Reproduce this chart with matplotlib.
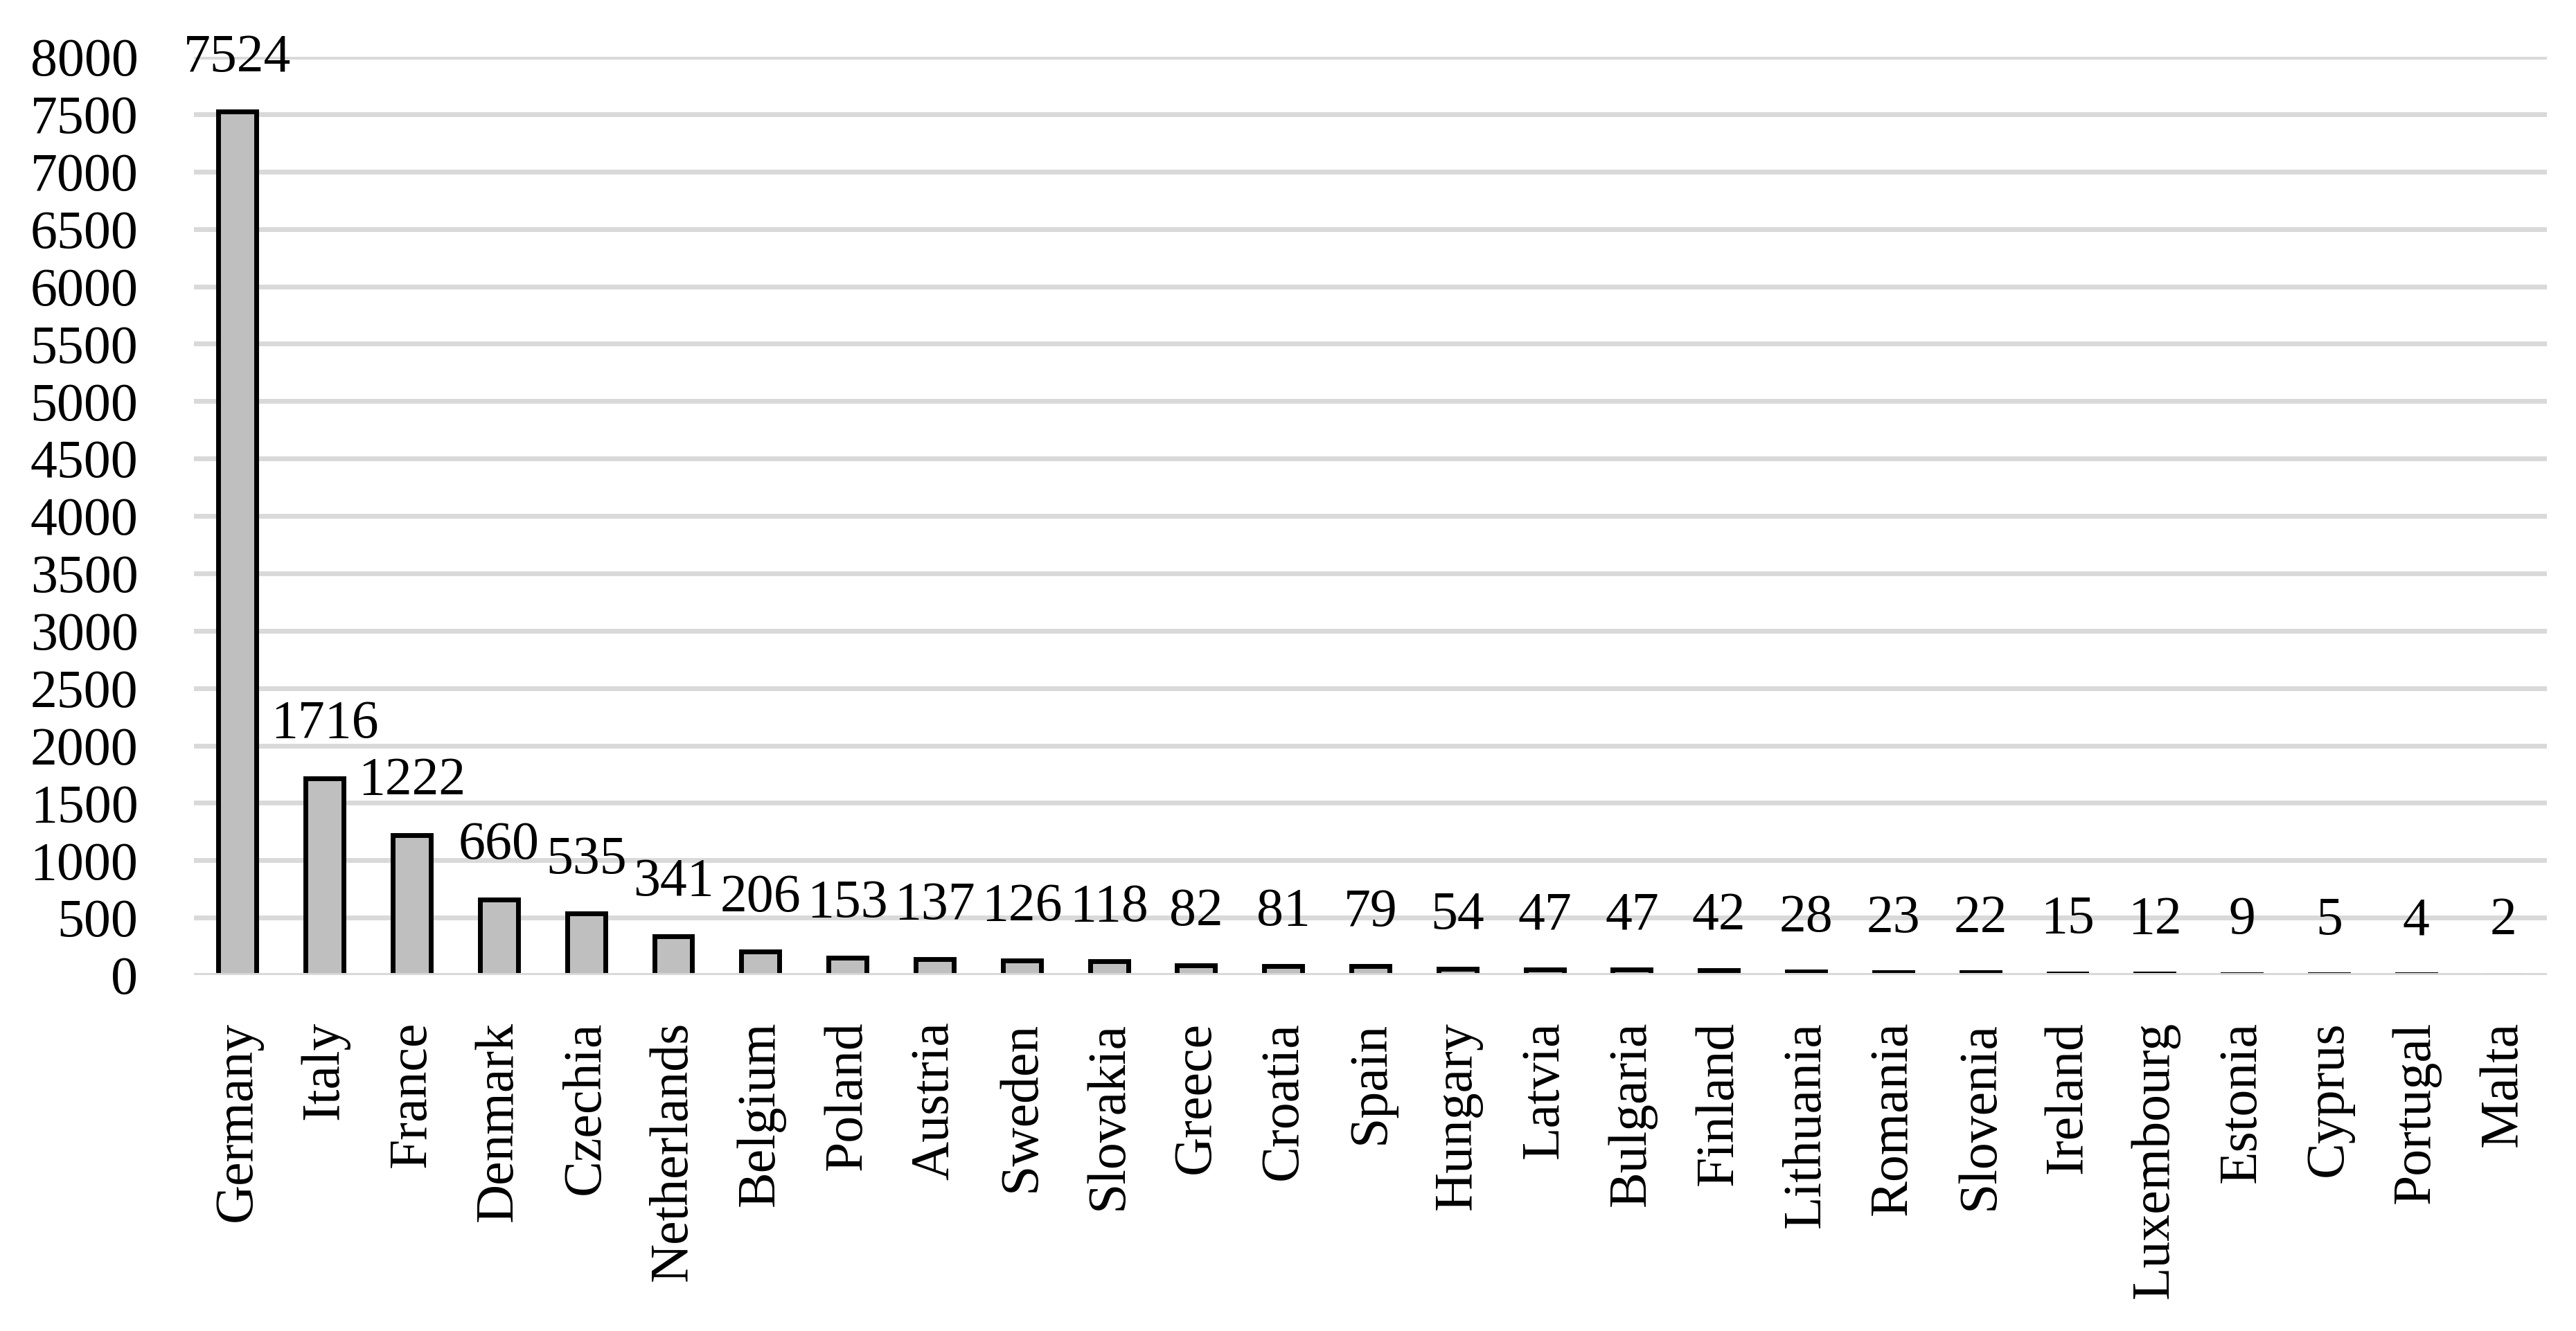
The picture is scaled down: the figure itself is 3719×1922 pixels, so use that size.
# -*- coding:utf-8 -*-
# bar chart: count per EU country, sorted descending

import matplotlib
matplotlib.use("Agg")
import matplotlib.pyplot as plt


countries = ["Germany", "Italy", "France", "Denmark", "Czechia", "Netherlands",
             "Belgium", "Poland", "Austria", "Sweden", "Slovakia", "Greece",
             "Croatia", "Spain", "Hungary", "Latvia", "Bulgaria", "Finland",
             "Lithuania", "Romania", "Slovenia", "Ireland", "Luxembourg",
             "Estonia", "Cyprus", "Portugal", "Malta"]
values = [7524, 1716, 1222, 660, 535, 341, 206, 153, 137, 126, 118, 82,
          81, 79, 54, 47, 47, 42, 28, 23, 22, 15, 12, 9, 5, 4, 2]
yticks = list(range(0, 8001, 500))


plt.rcParams["font.family"] = ["Liberation Serif", "DejaVu Serif"]
fs = 56

fig = plt.figure(figsize=(37.19, 19.22), dpi=100)
ax = fig.add_axes([0.0753, 0.2674, 0.9887 - 0.0753, 0.9573 - 0.2674])

x = list(range(len(countries)))
ax.bar(x, values, width=0.437, color="#BFBFBF", edgecolor="black",
       linewidth=5.0, zorder=2)

# axis line at zero sits over the bar bottoms
ax.axhline(0, color="#D9D9D9", linewidth=5.0, zorder=3)

for xi, v in zip(x, values):
    ax.annotate(str(v), (xi, v), xytext=(0, 42), textcoords="offset points",
                ha="center", va="baseline", fontsize=fs)

ax.set_xlim(-0.5, len(countries) - 0.5)
ax.set_ylim(0, 8000)
ax.set_yticks(yticks)
ax.set_yticklabels([str(t) for t in yticks], fontsize=fs)
ax.set_xticks(x)
ax.set_xticklabels(countries, rotation=90, fontsize=fs, va="top", ha="center")

ax.yaxis.grid(True, color="#D9D9D9", linewidth=5.0, zorder=0)
ax.set_axisbelow(True)
ax.tick_params(axis="y", length=0, pad=58)
ax.tick_params(axis="x", length=0, pad=48)
for s in ax.spines.values():
    s.set_visible(False)

plt.savefig("out.png", dpi=100)
